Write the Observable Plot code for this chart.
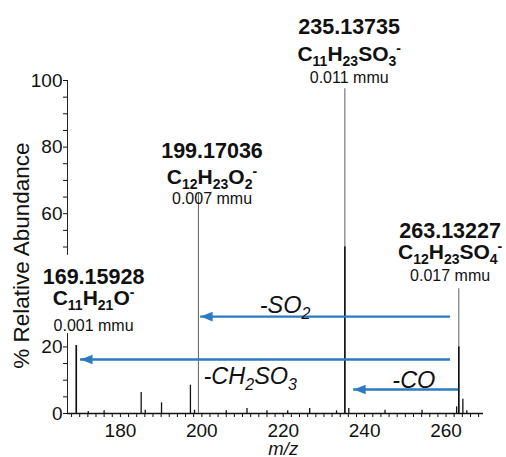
<!DOCTYPE html>
<html><head><meta charset="utf-8">
<script src="https://cdn.jsdelivr.net/npm/d3@7"></script>
<script src="https://cdn.jsdelivr.net/npm/@observablehq/plot@0.6"></script>
<style>
html,body{margin:0;padding:0;background:#fff;}
#chart svg{font-family:"Liberation Sans", Arial, sans-serif;}
</style></head><body><div id="chart"></div>
<script>
// ---- data ----
const minorMz = [172.1, 176.0, 185.1, 186.1, 190.1, 197.2, 198.2, 206.0, 211.1, 216.0, 221.1, 226.5, 233.1, 236.1, 245.0, 254.1, 262.6, 264.13, 265.1];
const minorIntensity = [0.6, 0.8, 6.3, 1.0, 3.2, 8.5, 1.0, 0.8, 1.5, 0.8, 0.8, 1.5, 0.8, 1.5, 1.0, 1.0, 2.0, 4.3, 0.8];

const ionMz = [169.15928, 199.17036, 235.13735, 263.13227];
const ionIntensity = [20.4, 66, 97.5, 37.5];
const ionDarkPart = [20.4, 0, 50, 20];
const ionLabel = ["169.15928", "199.17036", "235.13735", "263.13227"];
const ionFormula = ["C_11H_21O^-", "C_12H_23O_2^-", "C_11H_23SO_3^-", "C_12H_23SO_4^-"];
const ionError = ["0.001 mmu", "0.007 mmu", "0.011 mmu", "0.017 mmu"];

const lossLabel = ["-SO_2", "-CH_2SO_3", "-CO"];
const lossFrom = [261.1, 261.1, 263.1];
const lossTo = [199.7, 170.2, 237.3];
const lossLevel = [29.1, 16.2, 7.2];

const xMajorTicks = [180, 200, 220, 240, 260];
const xMinorTicks = d3.range(168, 270, 2).filter(v => v % 20 !== 0);
const yMajorTicks = [0, 20, 60, 80, 100];
const yMinorTicks = [5, 10, 15, 50, 55, 65, 70, 75, 85, 90, 95];
const yAxisPieces = [[0, 24], [47.5, 100]];
const xTitle = "m/z";
const yTitle = "% Relative Abundance";

// ---- layout (annotation placement) ----
const W = 506, H = 457, mT = 80, mB = 44, mL = 67, mR = 23;
const xDomain = [167, 269.2];
const ionLabelPos = [
  {x: 173.4, b: [283, 304, 330]},
  {x: 202.5, b: [157, 183, 203]},
  {x: 236.2, b: [33, 60, 82]},
  {x: 261.0, b: [237, 258, 280]}
];
const lossLabelPos = [
  {x: 214.2, b: 312},
  {x: 200.4, b: 383},
  {x: 246.8, b: 387}
];
const blue = "#2b7bc2";

const minor = minorMz.map((m, i) => ({mz: m, v: minorIntensity[i]}));
const ions = ionMz.map((m, i) => ({mz: m, v: ionIntensity[i], dark: ionDarkPart[i]}));
const losses = lossLabel.map((l, i) => ({label: l, from: lossFrom[i], to: lossTo[i], y: lossLevel[i]}));

const head = {draw(ctx) { ctx.moveTo(0, 0); ctx.lineTo(12, -4.8); ctx.lineTo(12, 4.8); ctx.closePath(); }};

const labelMarks = [];
ions.forEach((d, i) => {
  const p = ionLabelPos[i];
  const rows = [[ionLabel[i], "bold", 21.5], [ionFormula[i], "bold", 21], [ionError[i], "normal", 16]];
  rows.forEach((r, k) => {
    labelMarks.push(Plot.text([r[0]], {x: () => p.x, text: d => d, frameAnchor: "top", dy: p.b[k] - mT,
      lineAnchor: "bottom", textAnchor: "middle", fontWeight: r[1], fontSize: r[2], fill: "#111"}));
  });
});
losses.forEach((d, i) => {
  const p = lossLabelPos[i];
  labelMarks.push(Plot.text([d.label], {x: () => p.x, text: t => t, frameAnchor: "top", dy: p.b - mT,
    lineAnchor: "bottom", textAnchor: "start", fontStyle: "italic", fontSize: 23.5, fill: "#111"}));
});

const chart = Plot.plot({
  width: W, height: H, marginTop: mT, marginBottom: mB, marginLeft: mL, marginRight: mR,
  x: {domain: xDomain},
  y: {domain: [0, 100]},
  style: {fontFamily: "'Liberation Sans', Arial, sans-serif", fontSize: "19px", color: "#111", background: "white", overflow: "visible"},
  marks: [
    Plot.ruleY([0], {stroke: "#111", strokeWidth: 1.6}),
    Plot.ruleX(yAxisPieces, {x: () => xDomain[0], y1: d => d[0], y2: d => d[1], stroke: "#222", strokeWidth: 1}),
    Plot.axisX({ticks: xMajorTicks, tickSize: 4, tickPadding: 6, label: null, fontSize: 19}),
    Plot.axisX({ticks: xMinorTicks, tickSize: 4, tickFormat: () => "", label: null}),
    Plot.axisY({ticks: yMajorTicks, tickSize: 4, tickPadding: 1, label: null, fontSize: 19}),
    Plot.axisY({ticks: yMinorTicks, tickSize: 4, tickFormat: () => "", label: null}),
    Plot.ruleX(minor, {x: "mz", y1: 0, y2: "v", stroke: "#111", strokeWidth: 1.3}),
    Plot.ruleX(ions, {x: "mz", y1: 0, y2: "v", stroke: "#6e6e6e", strokeWidth: 1.1}),
    Plot.ruleX(ions.filter(d => d.dark > 0), {x: "mz", y1: 0, y2: "dark", stroke: "#111", strokeWidth: 1.6}),
    Plot.ruleY(losses, {x1: "from", x2: "to", y: "y", stroke: blue, strokeWidth: 2.4}),
    Plot.dot(losses, {x: "to", y: "y", symbol: head, fill: blue, stroke: "none", r: 5}),
    ...labelMarks,
    Plot.text([xTitle], {x: () => 220, text: d => d, frameAnchor: "top", dy: 454 - mT, lineAnchor: "bottom",
      fontStyle: "italic", fontSize: 18.5, fill: "#111"}),
    Plot.text([yTitle], {x: () => xDomain[0], y: () => 47.4, text: d => d, dx: -46, rotate: -90,
      textAnchor: "middle", lineAnchor: "middle", fontSize: 22.5, fill: "#111"})
  ]
});

function richText(svg) {
  svg.querySelectorAll("text").forEach(t => {
    const s = t.textContent;
    if (!/[_^]/.test(s)) return;
    const fs = parseFloat(getComputedStyle(t).fontSize) || 20;
    const sub = Math.round(fs * 0.68), shiftSub = fs * 0.26, shiftSup = fs * 0.36;
    t.textContent = "";
    let offset = 0;
    const re = /_(\d+)|\^(.)|([^_^]+)/g;
    let m;
    while ((m = re.exec(s))) {
      const ts = document.createElementNS("http://www.w3.org/2000/svg", "tspan");
      let target = 0, size = null;
      if (m[1]) { target = shiftSub; size = sub; ts.textContent = m[1]; }
      else if (m[2]) { target = -shiftSup; size = sub; ts.textContent = m[2]; }
      else { ts.textContent = m[3]; }
      if (target !== offset) ts.setAttribute("dy", (target - offset).toFixed(2));
      offset = target;
      if (size) ts.setAttribute("font-size", size);
      t.appendChild(ts);
    }
  });
}
document.getElementById("chart").appendChild(chart);
richText(chart);
</script></body></html>
